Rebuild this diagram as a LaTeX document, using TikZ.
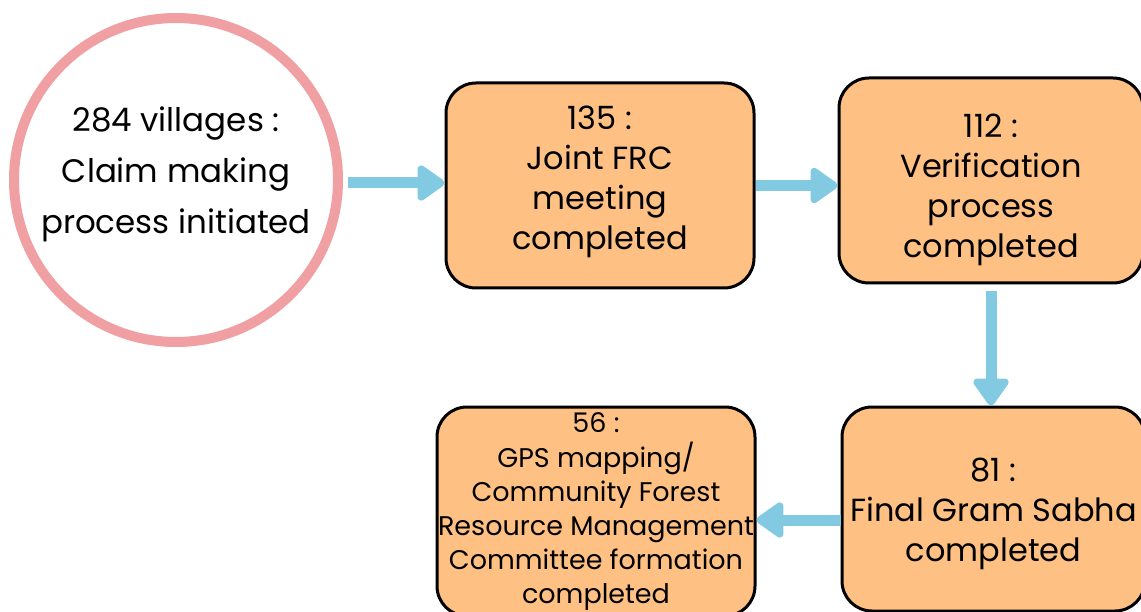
\documentclass[tikz,border=0pt]{standalone}
\usepackage{fontspec}
\setmainfont{Poppins}
\usetikzlibrary{arrows.meta}
\definecolor{arrblue}{HTML}{82CAE2}
\definecolor{ringpink}{HTML}{F0A0A2}
\definecolor{boxorange}{HTML}{FFC183}
\newcommand{\shiftlines}[2]{\raisebox{#1}[0pt][0pt]{\begin{tabular}{@{}c@{}}#2\end{tabular}}}
\tikzset{
  stagebox/.style={draw=black, line width=3pt, fill=boxorange, rounded corners=30pt,
    inner sep=0pt, font=\fontsize{32}{40}\selectfont},
  ring/.style={circle, draw=ringpink, line width=10pt, fill=white, minimum size=324pt,
    inner sep=0pt, font=\fontsize{32.5}{51}\selectfont},
  flow/.style={draw=arrblue, line width=11pt, -{Triangle[length=30pt,width=40pt,round]}}
}
\begin{document}
\begin{tikzpicture}[x=1pt,y=1pt]
\useasboundingbox (0,0) rectangle (1141,-612);
\clip (0,0) rectangle (1141,-612);
\node[ring] (circ) at (176,-180) {\shiftlines{1pt}{284 villages :\\Claim making\\process initiated}};
\node[stagebox, minimum width=308pt, minimum height=205pt] (b1) at (600,-185.5)
  {\shiftlines{-2pt}{135 :\\Joint FRC\\meeting\\completed}};
\node[stagebox, minimum width=304pt, minimum height=205pt] (b2) at (991,-180.5)
  {\shiftlines{-15pt}{112 :\\Verification\\process\\completed}};
\node[stagebox, minimum width=303pt, minimum height=204pt] (b3) at (993.5,-509)
  {\shiftlines{-11pt}{81 :\\Final Gram Sabha\\completed}};
\node[stagebox, minimum width=318pt, minimum height=209pt, font=\fontsize{27}{34}\selectfont] (b4) at (596,-511.5)
  {\shiftlines{-6pt}{56 :\\GPS mapping/\\Community Forest\\Resource Management\\Committee formation\\completed}};
\draw[flow, shorten <=5pt] ([yshift=-3pt]circ.east) -- ([yshift=-3pt]circ.east -| b1.west);
\draw[flow] (b1.east) -- (b1.east -| b2.west);
\draw[flow, shorten <=7pt] (b2.south) -- (b2.south |- b3.north);
\draw[flow] ([yshift=-11pt]b3.west) -- ([yshift=-11pt]b3.west -| b4.east);
\end{tikzpicture}
\end{document}
